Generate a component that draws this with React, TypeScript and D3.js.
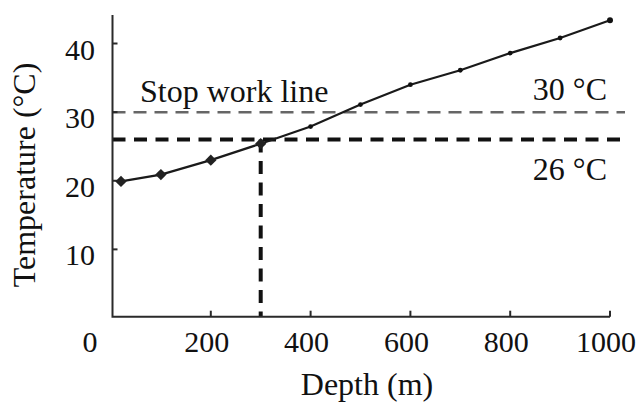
import React, { useEffect, useRef } from 'react';
import * as d3 from 'd3';

// depth (m) vs temperature (°C)
const depths = [20, 100, 200, 300, 400, 500, 600, 700, 800, 900, 1000];
const temps = [19.9, 20.9, 23.0, 25.4, 27.9, 31.1, 34.0, 36.1, 38.6, 40.8, 43.4];
// first four readings drawn as diamonds, the rest as small dots
const diamondCount = 4;

const xTicks = [200, 400, 600, 800, 1000];
const yTicks = [10, 20, 30, 40];

const stopTemp = 30;
const limitTemp = 26;
const limitDepth = 300;

const FONT = '"Liberation Serif", "Times New Roman", serif';

function App() {
  const svgRef = useRef<SVGSVGElement>(null);

  useEffect(() => {
    const svg = d3.select(svgRef.current);
    svg.selectAll('*').remove();

    const x = d3.scaleLinear().domain([0, 1000]).range([111, 610]);
    const y = d3.scaleLinear().domain([0, 40]).range([318, 43.5]);

    const axisX = 112.5;
    const axisY = 316.7;
    const ink = '#2a2a2a';

    const g = svg.append('g');

    // reference lines
    g.append('line')
      .attr('x1', axisX)
      .attr('x2', 625)
      .attr('y1', y(stopTemp))
      .attr('y2', y(stopTemp))
      .attr('stroke', '#666')
      .attr('stroke-width', 2.5)
      .attr('stroke-dasharray', '13,8');

    g.append('line')
      .attr('x1', axisX)
      .attr('x2', 622)
      .attr('y1', y(limitTemp))
      .attr('y2', y(limitTemp))
      .attr('stroke', '#111')
      .attr('stroke-width', 4)
      .attr('stroke-dasharray', '13,8.5');

    g.append('line')
      .attr('x1', x(limitDepth))
      .attr('x2', x(limitDepth))
      .attr('y1', y(limitTemp))
      .attr('y2', axisY)
      .attr('stroke', '#111')
      .attr('stroke-width', 4)
      .attr('stroke-dasharray', '13,8.5');

    // axes
    g.append('path')
      .attr('d', `M${axisX},15V${axisY}H${x(1000)}`)
      .attr('fill', 'none')
      .attr('stroke', ink)
      .attr('stroke-width', 2);

    g.selectAll('.xtick')
      .data(xTicks)
      .enter()
      .append('line')
      .attr('x1', (d) => x(d))
      .attr('x2', (d) => x(d))
      .attr('y1', axisY)
      .attr('y2', axisY - 6)
      .attr('stroke', ink)
      .attr('stroke-width', 2);

    g.selectAll('.ytick')
      .data(yTicks)
      .enter()
      .append('line')
      .attr('x1', axisX)
      .attr('x2', axisX + 5)
      .attr('y1', (d) => y(d))
      .attr('y2', (d) => y(d))
      .attr('stroke', ink)
      .attr('stroke-width', 2);

    const text = g
      .append('g')
      .attr('font-family', FONT)
      .attr('fill', '#111');

    text
      .selectAll('.xlab')
      .data([0, ...xTicks])
      .enter()
      .append('text')
      .attr('x', (d) => (d === 0 ? 90 : x(d) - 4))
      .attr('y', 352)
      .attr('text-anchor', 'middle')
      .attr('font-size', 30)
      .text((d) => d);

    text
      .selectAll('.ylab')
      .data(yTicks)
      .enter()
      .append('text')
      .attr('x', 95)
      .attr('y', (d) => y(d) + 16)
      .attr('text-anchor', 'end')
      .attr('font-size', 30)
      .text((d) => d);

    text
      .append('text')
      .attr('x', 367)
      .attr('y', 395)
      .attr('text-anchor', 'middle')
      .attr('font-size', 32)
      .text('Depth (m)');

    text
      .append('text')
      .attr('transform', 'translate(35,175) rotate(-90)')
      .attr('text-anchor', 'middle')
      .attr('font-size', 32)
      .text('Temperature (°C)');

    text
      .append('text')
      .attr('x', 140)
      .attr('y', 102)
      .attr('font-size', 32)
      .text('Stop work line');

    text
      .append('text')
      .attr('x', 607)
      .attr('y', 100)
      .attr('text-anchor', 'end')
      .attr('font-size', 32)
      .text('30 °C');

    text
      .append('text')
      .attr('x', 607)
      .attr('y', 180)
      .attr('text-anchor', 'end')
      .attr('font-size', 32)
      .text('26 °C');

    // data line
    const pts = depths.map((d, i) => ({ depth: d, temp: temps[i], i }));
    const line = d3
      .line<{ depth: number; temp: number }>()
      .x((d) => x(d.depth))
      .y((d) => y(d.temp));

    g.append('path')
      .datum(pts)
      .attr('d', line)
      .attr('fill', 'none')
      .attr('stroke', '#1a1a1a')
      .attr('stroke-width', 2.2);

    const diamond = d3.symbol().type(d3.symbolSquare).size(64);

    g.selectAll('.diamond')
      .data(pts.filter((p) => p.i < diamondCount))
      .enter()
      .append('path')
      .attr('d', diamond)
      .attr('transform', (d) => `translate(${x(d.depth)},${y(d.temp)}) rotate(45)`)
      .attr('fill', '#222');

    g.selectAll('.dot')
      .data(pts.filter((p) => p.i >= diamondCount))
      .enter()
      .append('circle')
      .attr('cx', (d) => x(d.depth))
      .attr('cy', (d) => y(d.temp))
      .attr('r', (d) => (d.depth === 1000 ? 3 : 2.4))
      .attr('fill', '#111');
  }, []);

  return (
    <svg
      ref={svgRef}
      width={641}
      height={402}
      style={{ position: 'absolute', left: 0, top: 0, background: '#fff' }}
    ></svg>
  );
}

export default App;
